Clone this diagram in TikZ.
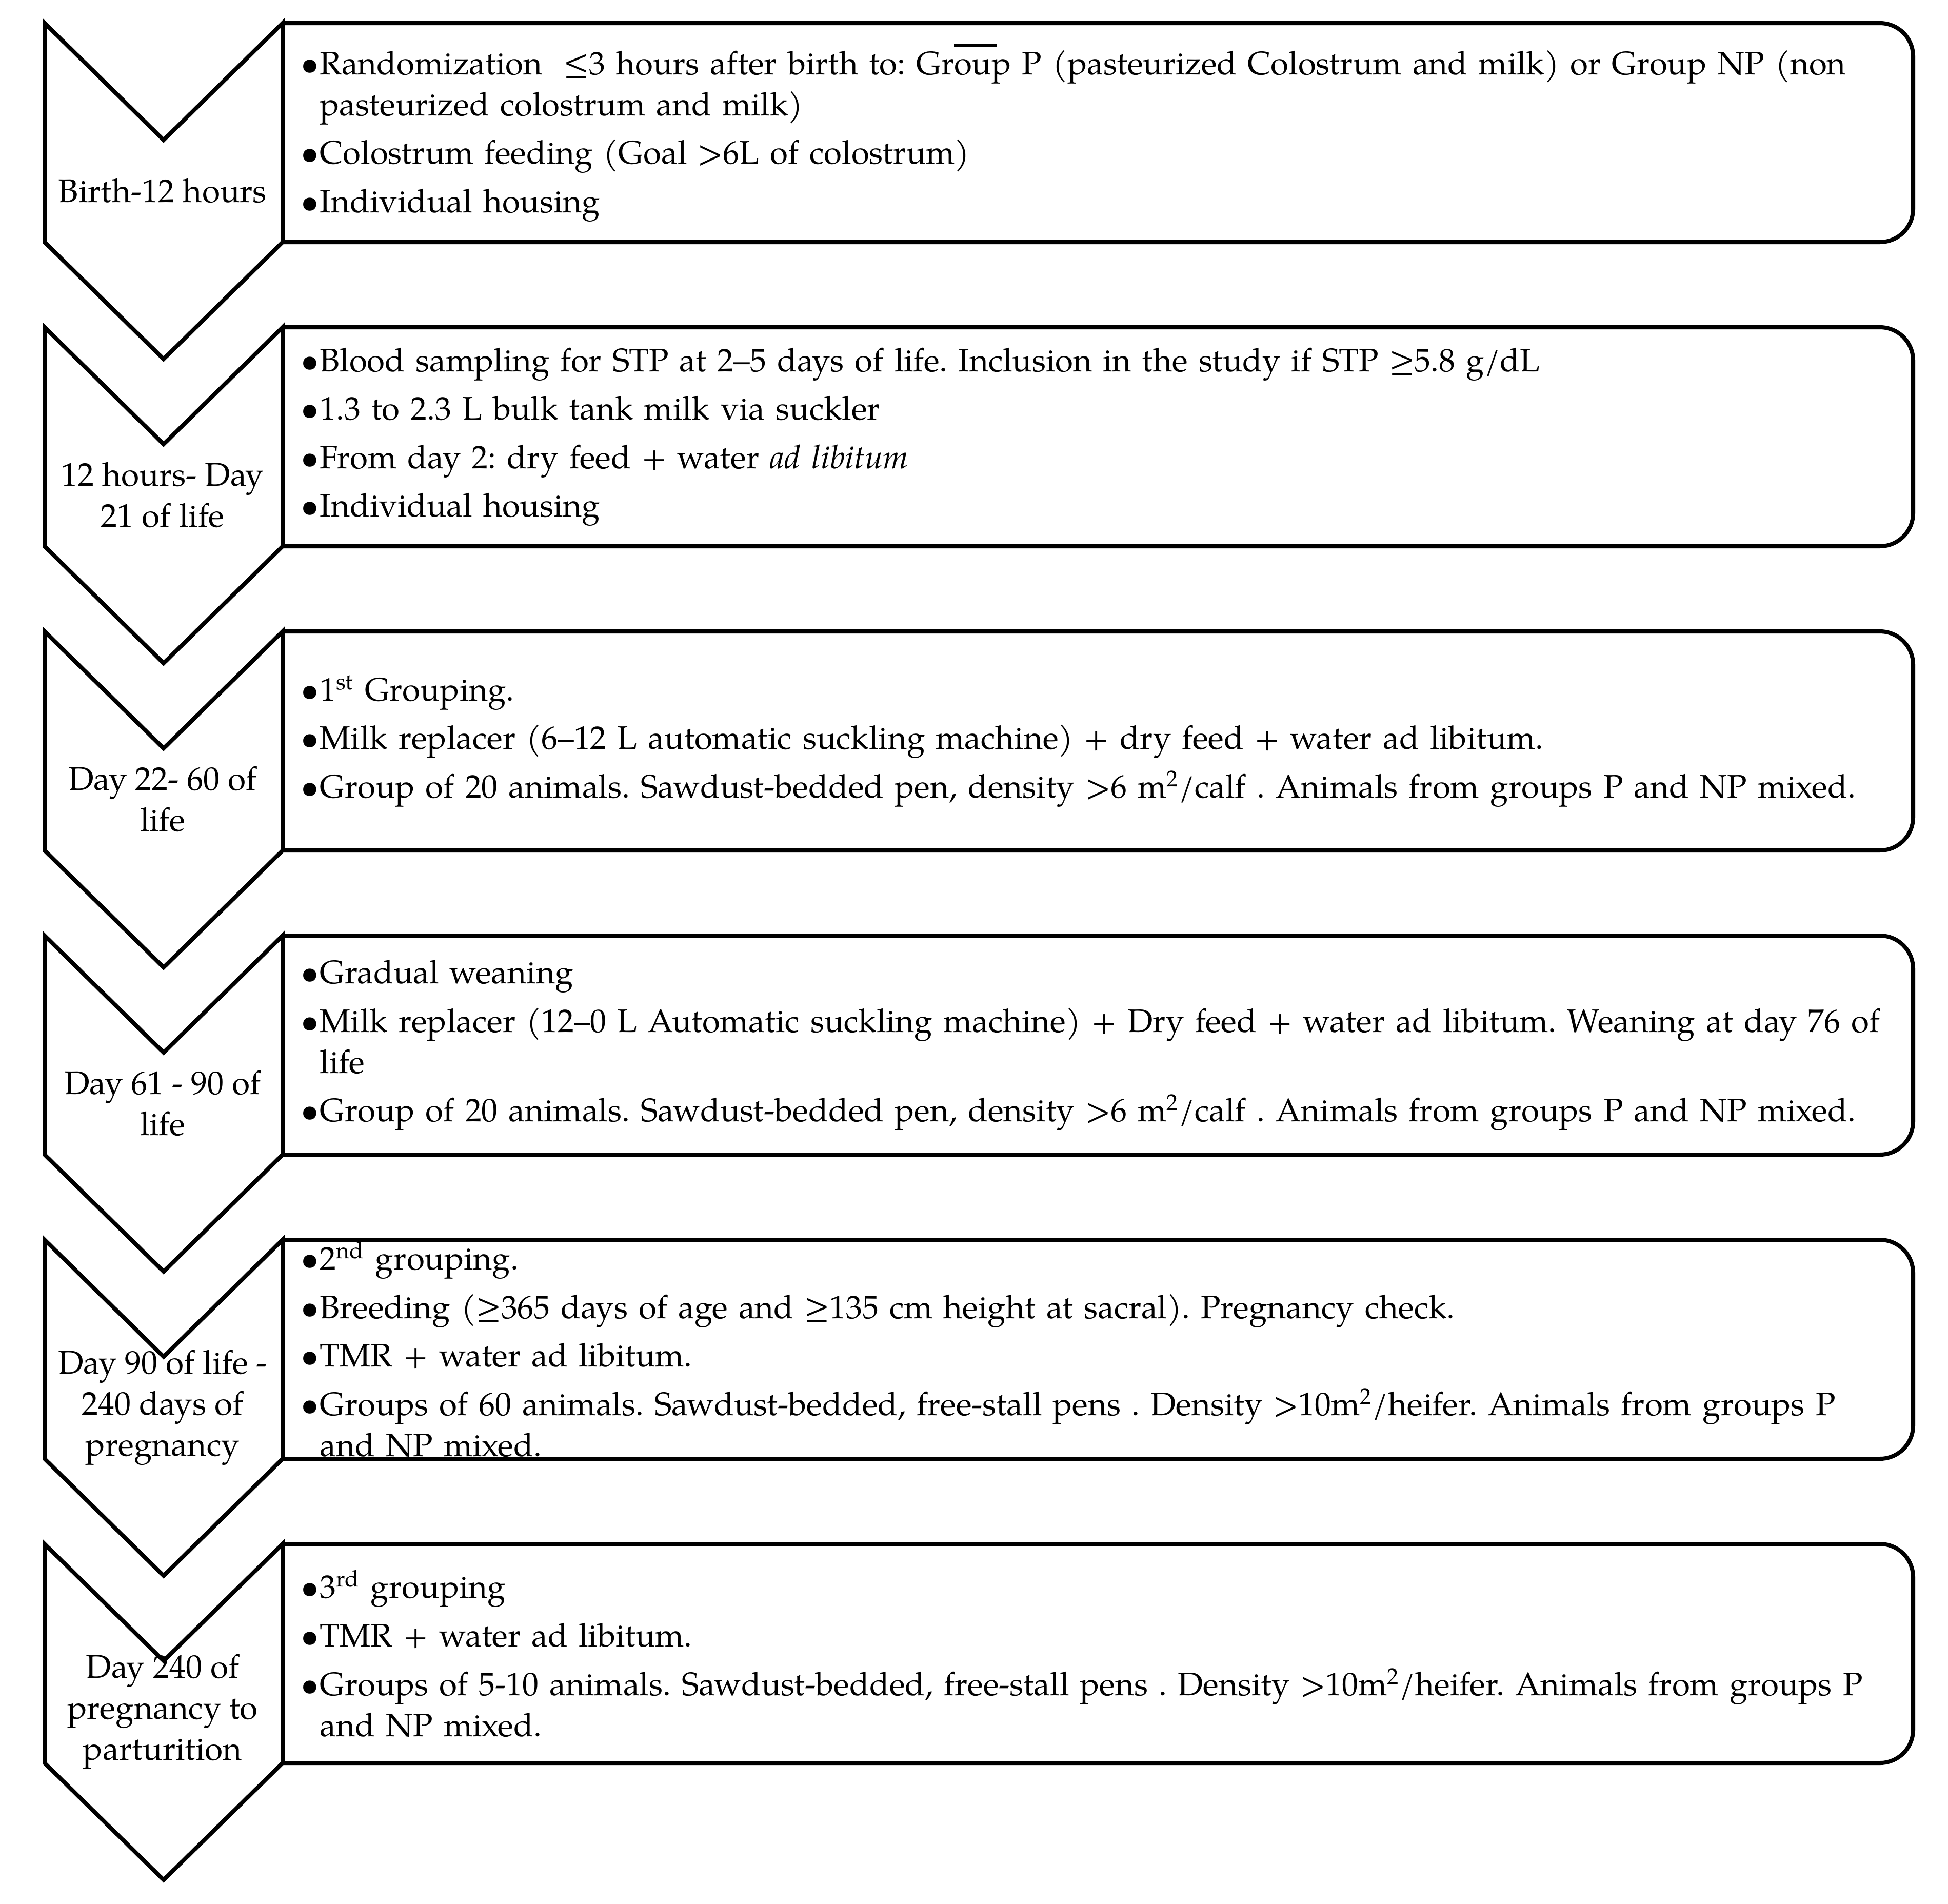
\documentclass[tikz,border=0pt]{standalone}
\usepackage{fontspec}
\setmainfont{TeX Gyre Pagella}

\tikzset{
  stage/.style={line width=0.08cm, fill=white, line join=miter},
  period/.style={align=center, inner sep=0pt, font=\fontsize{18.2}{22.8}\selectfont},
  notes/.style={anchor=west, inner sep=0pt, text width=31.6cm, align=left,
    font=\fontsize{18.1}{22.8}\selectfont,
    execute at begin node={\frenchspacing\setlength{\parskip}{4.1pt}}},
}
\newcommand{\bul}[1]{\hangindent=0.37cm\hangafter=1\noindent\makebox[0.37cm][l]{\textbullet}#1\par}

\begin{document}
\begin{tikzpicture}
\useasboundingbox (0,0) rectangle (37.98,-37.12);

% row 1
\draw[stage, rounded corners=0.65cm] (5.51,-0.45) -- (37.30,-0.45) -- (37.30,-4.72) -- (5.51,-4.72);
\draw[stage] (0.87,-0.45) -- (3.19,-2.73) -- (5.51,-0.45) -- (5.51,-4.72) -- (3.19,-7.00) -- (0.87,-4.72) -- cycle;
% row 2
\draw[stage, rounded corners=0.65cm] (5.51,-6.38) -- (37.30,-6.38) -- (37.30,-10.65) -- (5.51,-10.65);
\draw[stage] (0.87,-6.38) -- (3.19,-8.66) -- (5.51,-6.38) -- (5.51,-10.65) -- (3.19,-12.93) -- (0.87,-10.65) -- cycle;
% row 3
\draw[stage, rounded corners=0.65cm] (5.51,-12.31) -- (37.30,-12.31) -- (37.30,-16.58) -- (5.51,-16.58);
\draw[stage] (0.87,-12.31) -- (3.19,-14.59) -- (5.51,-12.31) -- (5.51,-16.58) -- (3.19,-18.86) -- (0.87,-16.58) -- cycle;
% row 4
\draw[stage, rounded corners=0.65cm] (5.51,-18.24) -- (37.30,-18.24) -- (37.30,-22.51) -- (5.51,-22.51);
\draw[stage] (0.87,-18.24) -- (3.19,-20.52) -- (5.51,-18.24) -- (5.51,-22.51) -- (3.19,-24.79) -- (0.87,-22.51) -- cycle;
% row 5
\draw[stage, rounded corners=0.65cm] (5.51,-24.17) -- (37.30,-24.17) -- (37.30,-28.44) -- (5.51,-28.44);
\draw[stage] (0.87,-24.17) -- (3.19,-26.45) -- (5.51,-24.17) -- (5.51,-28.44) -- (3.19,-30.72) -- (0.87,-28.44) -- cycle;
% row 6
\draw[stage, rounded corners=0.65cm] (5.51,-30.10) -- (37.30,-30.10) -- (37.30,-34.37) -- (5.51,-34.37);
\draw[stage] (0.87,-30.10) -- (3.19,-32.38) -- (5.51,-30.10) -- (5.51,-34.37) -- (3.19,-36.65) -- (0.87,-34.37) -- cycle;

% periods
\node[period] (birth) at (3.17,-3.72) {Birth-12 hours};
\node[period] (early) at (3.17,-9.65) {12 hours- Day\\21 of life};
\node[period] (firstgroup) at (3.17,-15.58) {Day 22- 60 of\\life};
\node[period] (weaning) at (3.17,-21.51) {Day 61 - 90 of\\life};
\node[period] (heifer) at (3.17,-27.44) {Day 90 of life -\\240 days of\\pregnancy};
\node[period] (prepartum) at (3.17,-33.37) {Day 240 of\\pregnancy to\\parturition};

% notes
\node[notes] (birthnotes) at (5.86,-2.59) {%
\bul{Randomization \ ≤3 hours after birth to: Gr\rlap{\rule[0.86em]{0.84cm}{0.05cm}}oup P (pasteurized Colostrum and milk) or Group NP (non\newline pasteurized colostrum and milk)}
\bul{Colostrum feeding (Goal >6L of colostrum)}
\bul{Individual housing}};
\node[notes] (earlynotes) at (5.86,-8.52) {%
\bul{Blood sampling for STP at 2–5 days of life. Inclusion in the study if STP ≥5.8 g/dL}
\bul{1.3 to 2.3 L bulk tank milk via suckler}
\bul{From day 2: dry feed + water \textit{ad libitum}}
\bul{Individual housing}};
\node[notes] (firstgroupnotes) at (5.86,-14.45) {%
\bul{1\textsuperscript{st} Grouping.}
\bul{Milk replacer (6–12 L automatic suckling machine) + dry feed + water ad libitum.}
\bul{Group of 20 animals. Sawdust-bedded pen, density >6 m\textsuperscript{2}/calf . Animals from groups P and NP mixed.}};
\node[notes] (weaningnotes) at (5.86,-20.38) {%
\bul{Gradual weaning}
\bul{Milk replacer (12–0 L Automatic suckling machine) + Dry feed + water ad libitum. Weaning at day 76 of\newline life}
\bul{Group of 20 animals. Sawdust-bedded pen, density >6 m\textsuperscript{2}/calf . Animals from groups P and NP mixed.}};
\node[notes] (heifernotes) at (5.86,-26.31) {%
\bul{2\textsuperscript{nd} grouping.}
\bul{Breeding (≥365 days of age and ≥135 cm height at sacral). Pregnancy check.}
\bul{TMR + water ad libitum.}
\bul{Groups of 60 animals. Sawdust-bedded, free-stall pens . Density >10m\textsuperscript{2}/heifer. Animals from groups P\newline and NP mixed.}};
\node[notes] (prepartumnotes) at (5.86,-32.24) {%
\bul{3\textsuperscript{rd} grouping}
\bul{TMR + water ad libitum.}
\bul{Groups of 5-10 animals. Sawdust-bedded, free-stall pens . Density >10m\textsuperscript{2}/heifer. Animals from groups P\newline and NP mixed.}};
\end{tikzpicture}
\end{document}
